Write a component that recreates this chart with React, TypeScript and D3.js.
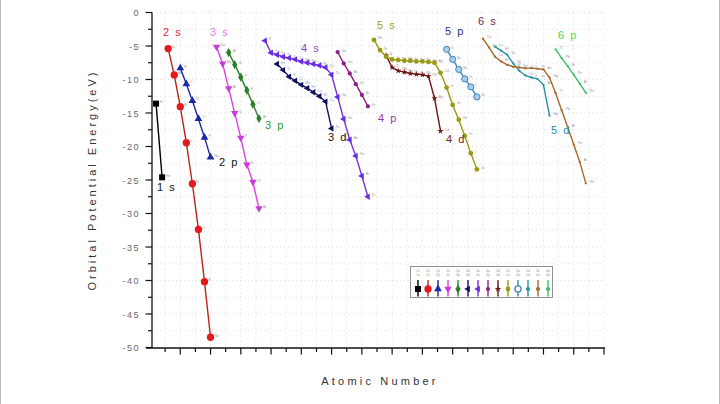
import React from "react";
import * as d3 from "d3";

// element symbols by plotted index (lanthanides 58-71 omitted)
const symbols = ["", "H","He","Li","Be","B","C","N","O","F","Ne","Na","Mg","Al","Si","P","S","Cl","Ar",
  "K","Ca","Sc","Ti","V","Cr","Mn","Fe","Co","Ni","Cu","Zn","Ga","Ge","As","Se","Br","Kr",
  "Rb","Sr","Y","Zr","Nb","Mo","Tc","Ru","Rh","Pd","Ag","Cd","In","Sn","Sb","Te","I","Xe",
  "Cs","Ba","La","Hf","Ta","W","Re","Os","Ir","Pt","Au","Hg","Tl","Pb","Bi","Po","At","Rn"];

const orbitals = ["1s","2s","2p","3s","3p","3d","4s","4p","4d","5s","5p","5d","6s","6p"];
const startIndex = [1, 3, 5, 11, 13, 21, 19, 31, 39, 37, 49, 57, 55, 67];

const v1s = [-13.6, -24.6];
const v2s = [-5.39, -9.32, -14.05, -19.43, -25.56, -32.38, -40.17, -48.47];
const v2p = [-8.3, -10.66, -13.18, -15.85, -18.65, -21.59];
const v3s = [-5.14, -7.65, -11.32, -15.03, -18.72, -22.71, -25.3, -29.24];
const v3p = [-5.98, -7.78, -9.65, -11.62, -13.69, -15.82];
const v3d = [-7.7, -8.6, -9.6, -10.2, -10.8, -11.3, -11.9, -12.5, -13.3, -17.3];
const v4s = [-4.2, -6.0, -6.3, -6.6, -6.8, -7.0, -7.3, -7.5, -7.7, -7.9, -8.2, -9.3, -12.6, -15.9, -19.0, -21.4, -24.4, -27.5];
const v4p = [-5.9, -7.6, -9.1, -10.7, -12.3, -14.0];
const v4d = [-6.4, -8.2, -8.7, -8.9, -9.1, -9.2, -9.3, -9.5, -12.8, -17.7];
const v5s = [-4.1, -5.6, -6.6, -7.0, -7.1, -7.2, -7.2, -7.3, -7.3, -7.4, -7.5, -9.0, -11.2, -13.8, -16.0, -18.4, -21.0, -23.4];
const v5p = [-5.5, -7.0, -8.5, -9.9, -11.1, -12.6];
const v5d = [-5.1, -5.7, -6.3, -7.6, -8.7, -9.4, -9.7, -9.9, -10.8, -15.4];
const v6s = [-3.9, -5.2, -6.6, -7.3, -7.8, -8.1, -8.2, -8.3, -8.3, -8.4, -8.5, -9.7, -12.0, -14.6, -17.1, -19.7, -22.3, -25.5];
const v6p = [-5.5, -6.8, -8.0, -9.3, -10.6, -12.0];
const values = [v1s, v2s, v2p, v3s, v3p, v3d, v4s, v4p, v4d, v5s, v5p, v5d, v6s, v6p];

const lineColors = ["#000000","#b8241c","#1c2a9c","#e040e0","#2a7f2a","#12125e","#7434e0","#8e1f86","#6e1616","#9a9a14","#3f86bd","#2693a3","#a5682a","#35c265"];
const markerColors = ["#000000","#e31a1c","#1c2aa8","#c83cd8","#2a7f2a","#12125e","#6a2ce0","#8e1f86","#6e1616","#9a9a14","#3f86bd","#2693a3","#a5682a","#35c265"];
const markerTypes = [d3.symbolSquare, d3.symbolCircle, d3.symbolTriangle, d3.symbolTriangle, d3.symbolDiamond, d3.symbolTriangle, d3.symbolTriangle, d3.symbolCircle, d3.symbolStar, d3.symbolCircle, d3.symbolCircle, d3.symbolCircle, d3.symbolCircle, d3.symbolCircle];
const markerRot = [0, 0, 0, 180, 0, -90, -90, 0, 0, 0, 0, 0, 0, 0];
const markerSize = [36, 42, 26, 24, 24, 18, 18, 14, 12, 18, 30, 4, 4, 4];

const labelText = ["1 s","2 s","2 p","3 s","3 p","3 d","4 s","4 p","4 d","5 s","5 p","5 d","6 s","6 p"];
const labelColors = ["#111","#d83030","#111","#f07af0","#2a9a2a","#111","#8a4ad0","#9a36aa","#802020","#a0a020","#30307e","#2a90a4","#6e2a5e","#52d852"];
const labelPos = [[157,191],[163,36],[219,166],[210,36],[265,129],[328,141],[301,52],[378,122],[446,143],[377,29],[445,35],[551,134],[478,25],[558,39]];

const xTicks = d3.range(0, 75.01, 2.5);
const yTicks = d3.range(0, -50.01, -2.5);

export default function App() {
  const x = d3.scaleLinear().domain([0, 75]).range([150, 604]);
  const y = d3.scaleLinear().domain([0, -50]).range([12.5, 347.5]);
  const line = d3.line<[number, number]>().x(d => x(d[0])).y(d => y(d[1]));
  const series = orbitals.map((name, i) => ({
    name,
    pts: values[i].map((v, k) => [startIndex[i] + k, v] as [number, number]),
  }));
  const axisX = 152;
  const axisY = 348;
  const legX0 = 418, legStep = 10;
  return (
    <svg width={720} height={404} style={{ position: "absolute", left: 0, top: 0, background: "#fff", fontFamily: "Liberation Sans, Arial, sans-serif" }}>
      <rect x={0} y={0} width={720} height={404} fill="#fff" />
      <line x1={0.5} y1={0} x2={0.5} y2={404} stroke="#bbb" />
      <line x1={719.5} y1={0} x2={719.5} y2={404} stroke="#bbb" />
      {/* grid */}
      {xTicks.slice(1).map((t, i) => (
        <line key={"gx" + i} x1={x(t)} x2={x(t)} y1={y(0)} y2={axisY} stroke="#cfcfcf" strokeWidth={0.7} strokeDasharray="1 3" />
      ))}
      {yTicks.slice(0, -1).map((t, i) => (
        <line key={"gy" + i} x1={axisX} x2={x(75)} y1={y(t)} y2={y(t)} stroke="#cfcfcf" strokeWidth={0.7} strokeDasharray="1 3" />
      ))}
      {/* axes */}
      <line x1={axisX} x2={axisX} y1={y(0)} y2={axisY} stroke="#111" strokeWidth={1.3} />
      <line x1={146} x2={x(75) + 1} y1={axisY} y2={axisY} stroke="#111" strokeWidth={1.3} />
      {yTicks.map((t, i) => {
        const major = i % 2 === 0;
        return (
          <g key={"yt" + i}>
            <line x1={axisX - (major ? 6.5 : 4)} x2={axisX} y1={y(t)} y2={y(t)} stroke="#111" strokeWidth={1.2} />
            {major && (
              <text x={140} y={y(t) + 3.5} textAnchor="end" fontSize={9} fill="#666" letterSpacing={1.5}>
                {t === 0 ? "0" : String(t)}
              </text>
            )}
          </g>
        );
      })}
      {xTicks.slice(1).map((t, i) => {
        const major = Math.round(t * 2) % 10 === 0;
        return <line key={"xt" + i} x1={x(t)} x2={x(t)} y1={axisY} y2={axisY + (major ? 6.5 : 4)} stroke="#111" strokeWidth={1.2} />;
      })}
      <text x={380} y={385} textAnchor="middle" fontSize={11} fill="#333" letterSpacing={3.2}>Atomic Number</text>
      <text transform="translate(96,180) rotate(-90)" textAnchor="middle" fontSize={11} fill="#333" letterSpacing={3}>Orbital Potential Energy(eV)</text>
      {/* series */}
      {series.map((s, i) => (
        <g key={s.name}>
          <path d={line(s.pts) || ""} fill="none" stroke={lineColors[i]} strokeWidth={1.4} />
          {s.pts.map((p, k) => (
            <g key={k}>
              <path
                d={d3.symbol().type(markerTypes[i]).size(markerSize[i])() || ""}
                transform={`translate(${x(p[0])},${y(p[1])}) rotate(${markerRot[i]})`}
                fill={i === 10 ? "#a9cdea" : markerColors[i]}
                stroke={i === 10 ? "#3f86bd" : "none"}
                strokeWidth={1}
              />
              <text x={x(p[0]) + 4} y={y(p[1]) - 0.5} fontSize={3.5} fill="#999">{symbols[p[0]]}</text>
            </g>
          ))}
        </g>
      ))}
      {/* labels */}
      {labelText.map((t, i) => (
        <text key={"lb" + i} x={labelPos[i][0]} y={labelPos[i][1]} fontSize={11} fill={labelColors[i]} letterSpacing={1.5}>{t}</text>
      ))}
      {/* legend */}
      <rect x={410.5} y={266.5} width={142} height={31} fill="#fff" stroke="#777" strokeWidth={0.8} />
      {orbitals.map((name, i) => {
        const lx = legX0 + i * legStep;
        return (
          <g key={"lg" + name}>
            <text x={lx} y={271.5} fontSize={3.5} fill="#999" textAnchor="middle">{name}</text>
            <text x={lx} y={275.5} fontSize={3.5} fill="#999" textAnchor="middle">{name}</text>
            <line x1={lx} x2={lx} y1={280} y2={296.5} stroke={lineColors[i]} strokeWidth={1.4} />
            <path
              d={d3.symbol().type(markerTypes[i]).size(Math.max(markerSize[i], 14))() || ""}
              transform={`translate(${lx},289) rotate(${markerRot[i]})`}
              fill={i === 10 ? "#fff" : markerColors[i]}
              stroke={i === 10 ? "#3f86bd" : "none"}
              strokeWidth={1.3}
            />
          </g>
        );
      })}
    </svg>
  );
}
